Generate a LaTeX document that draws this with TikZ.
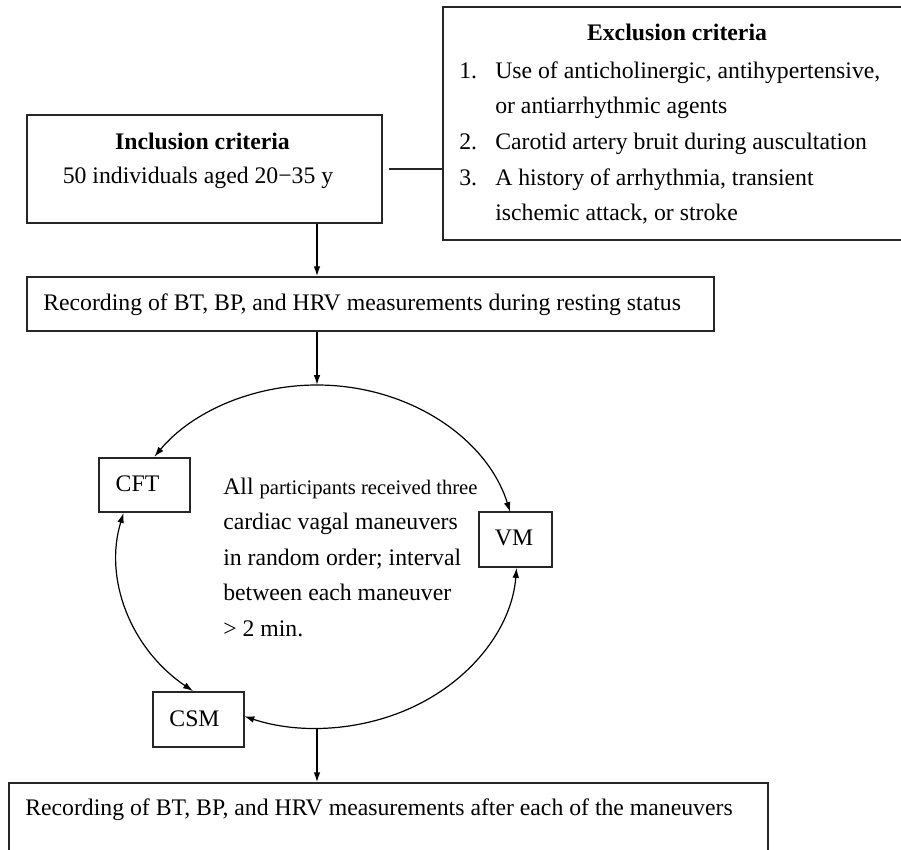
\documentclass[tikz,border=0pt]{standalone}
\usepackage{fontspec}
\setmainfont{Liberation Serif}
\usetikzlibrary{arrows.meta,fit}
\begin{document}
\begin{tikzpicture}[x=0.75pt,y=-0.75pt,
  box/.style={draw=black!85,line width=1.1pt,inner sep=0pt,rectangle},
  txt/.style={inner sep=0pt,font=\fontsize{17.8}{22}\selectfont},
  arr/.style={line width=1.1pt,-{Latex[length=7.5pt,width=5pt]}},
  carc/.style={line width=0.9pt},
  tip/.style={-{Latex[length=7.5pt,width=5pt]}},
  tips/.style={{Latex[length=7.5pt,width=5pt]}-{Latex[length=7.5pt,width=5pt]}}]
\useasboundingbox (0,0) rectangle (901,850);
\clip (0,0) rectangle (901,850);
% boxes
\node[box,fit={(27,115) (382,223)}] (inc) {};
\node[box,fit={(443,7) (930,240)}] (exc) {};
\node[box,fit={(27,277) (714,331)}] (rest) {};
\node[box,fit={(99,458) (190,512)}] (cft) {};
\node[box,fit={(479,512) (552,567)}] (vm) {};
\node[box,fit={(153,692) (244,747)}] (csm) {};
\node[box,fit={(9,783) (768,880)}] (bot) {};
% texts
\node[txt,anchor=base,font=\fontsize{17.8}{22}\selectfont\bfseries] (inct) at (202.5,149) {Inclusion criteria};
\node[txt,anchor=base] (incs) at (198,183) {50 individuals aged 20−35 y};
\node[txt,anchor=base,font=\fontsize{17.8}{22}\selectfont\bfseries] (exct) at (677,40) {Exclusion criteria};
\node[txt,anchor=base west] (n1) at (459,78) {1.};
\node[txt,anchor=base west] (e1) at (495,78) {Use of anticholinergic, antihypertensive,};
\node[txt,anchor=base west] (e1b) at (495,113) {or antiarrhythmic agents};
\node[txt,anchor=base west] (n2) at (459,149) {2.};
\node[txt,anchor=base west] (e2) at (495,149) {Carotid artery bruit during auscultation};
\node[txt,anchor=base west] (n3) at (459,185) {3.};
\node[txt,anchor=base west] (e3) at (495,185) {A history of arrhythmia, transient};
\node[txt,anchor=base west] (e3b) at (495,220) {ischemic attack, or stroke};
\node[txt,anchor=base west] (restt) at (43,310) {Recording of BT, BP, and HRV measurements during resting status};
\node[txt,anchor=base west] (bott) at (25,815) {Recording of BT, BP, and HRV measurements after each of the maneuvers};
\node[txt,anchor=base] (cftt) at (137.5,491) {CFT};
\node[txt,anchor=base] (vmt) at (514,545) {VM};
\node[txt,anchor=base] (csmt) at (194.5,726) {CSM};
\node[txt,anchor=base west] (c1) at (223,494) {All {\fontsize{15.5}{20}\selectfont participants received three}};
\node[txt,anchor=base west] (c2) at (223,529.5) {cardiac vagal maneuvers};
\node[txt,anchor=base west] (c3) at (223,565) {in random order; interval};
\node[txt,anchor=base west] (c4) at (223,600.5) {between each maneuver};
\node[txt,anchor=base west] (c5) at (223,636) {> 2 min.};
% ellipse points
\coordinate (ax) at (317,0);
\coordinate (ctop) at (317,385);
\coordinate (cbot) at (317,728);
\coordinate (ccft) at ({317+200*cos(194.7)},{556.5+171.5*sin(194.7)});
\coordinate (cvm) at ({317+200*cos(3.8)},{556.5+171.5*sin(3.8)});
% connectors
\draw[line width=1.1pt,draw=black!85,shorten <=4.5pt] (inc.east) -- (inc.east -| exc.west);
\draw[arr] (inc.south -| ax) -- (rest.north -| ax);
\draw[arr] (rest.south -| ax) -- (ctop);
\draw[arr] (cbot) -- (bot.north -| ax);
\draw[carc,tip] (ctop) arc[start angle=270,end angle=215.6,x radius=200,y radius=171.5];
\draw[carc,tip] (ctop) arc[start angle=-90,end angle=-15,x radius=200,y radius=171.5];
\draw[carc,tips] (ccft) arc[start angle=194.7,end angle=128.3,x radius=200,y radius=171.5];
\draw[carc,tips] (cvm) arc[start angle=3.8,end angle=111.3,x radius=200,y radius=171.5];
\end{tikzpicture}
\end{document}
